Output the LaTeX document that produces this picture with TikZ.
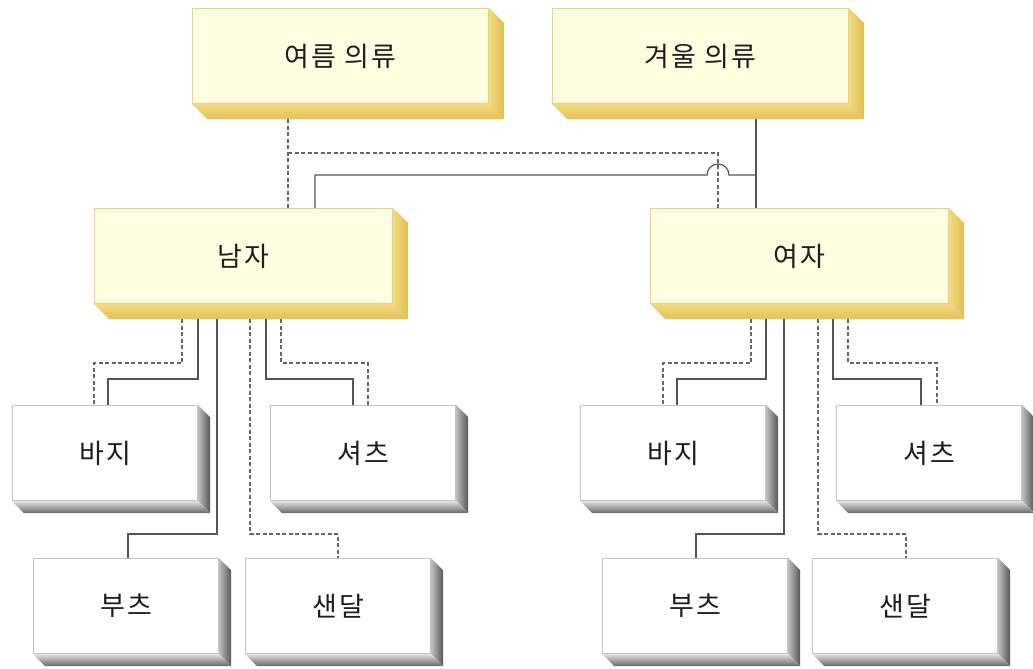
\documentclass[tikz,border=0pt]{standalone}
\usepackage{fontspec}
\newfontfamily\kr[LetterSpace=8]{Noto Sans CJK KR}
\usetikzlibrary{calc}
\definecolor{yfront}{HTML}{FFFDE0}
\definecolor{ybord}{HTML}{EDD27E}
\definecolor{wbord}{HTML}{C4C4C4}
\definecolor{txt}{HTML}{1E1E1E}
\definecolor{lin}{HTML}{555555}
\definecolor{dlin}{HTML}{666666}
\newcommand\extrude[4]{%
  \shade[#3] (#1.north east) -- ++(#2,#2) -- ($(#1.south east)+(#2,#2)$) -- (#1.south east) -- cycle;
  \shade[#4] (#1.south west) -- (#1.south east) -- ++(#2,#2) -- ($(#1.south west)+(#2,#2)$) -- cycle;}
\begin{document}
\begin{tikzpicture}[x=1pt,y=-1pt,
  lbl/.style={font=\kr\fontsize{27pt}{32pt}\selectfont, text=txt},
  ybox/.style={lbl, draw=ybord, fill=yfront, line width=1pt, minimum width=296pt, minimum height=95pt, anchor=north west, inner sep=0pt},
  wbox/.style={lbl, draw=wbord, fill=white, line width=1pt, minimum width=185pt, minimum height=95pt, anchor=north west, inner sep=0pt},
  ysidecol/.style={left color={rgb,255:red,243;green,218;blue,128}, right color={rgb,255:red,224;green,190;blue,84}},
  ybotcol/.style={top color={rgb,255:red,244;green,218;blue,126}, bottom color={rgb,255:red,228;green,192;blue,88}},
  wsidecol/.style={left color={rgb,255:red,190;green,190;blue,190}, right color={rgb,255:red,88;green,88;blue,88}},
  wbotcol/.style={top color={rgb,255:red,226;green,226;blue,226}, bottom color={rgb,255:red,104;green,104;blue,104}},
  sol/.style={draw=lin, line width=1.2pt},
  dsh/.style={draw=dlin, line width=1.2pt, dash pattern=on 4pt off 2.5pt}]
\useasboundingbox (0,0) rectangle (1033,669);
\fill[white] (0,0) rectangle (1033,669);

% top level
\node[ybox] (sum) at (192,8) {여름 의류};
\node[ybox] (win) at (552,8) {겨울 의류};
\node[ybox, minimum width=298pt] (man) at (94,208) {남자};
\node[ybox, minimum width=298pt] (woman) at (650,208) {여자};
\foreach \n in {sum,win,man,woman}{\extrude{\n}{15}{ysidecol}{ybotcol}}

% children
\node[wbox] (mpants) at (12,405) {바지};
\node[wbox] (mshirt) at (270,405) {셔츠};
\node[wbox] (mboots) at (33,558) {부츠};
\node[wbox] (msand)  at (245,558) {샌달};
\node[wbox] (wpants) at (580,405) {바지};
\node[wbox] (wshirt) at (836,405) {셔츠};
\node[wbox] (wboots) at (602,558) {부츠};
\node[wbox] (wsand)  at (812,558) {샌달};
\foreach \n in {mpants,mshirt,mboots,msand,wpants,wshirt,wboots,wsand}{\extrude{\n}{12}{wsidecol}{wbotcol}}

% top connectors
\draw[dsh] ($(sum.south west)+(96,15)$) coordinate (s0) -- (s0 |- man.north);
\draw[dsh] ($(s0)+(0,34)$) -| ($(woman.north west)+(68,0)$);
\draw[sol] ($(win.south west)+(204,15)$) coordinate (w0) -- (w0 |- woman.north);
\draw[sol] ($(w0)+(0,56)$) -- ++(-27,0) arc[start angle=0,end angle=180,radius=11pt] -| ($(man.north west)+(221,0)$);

% man children
\draw[dsh] ($(man.south west)+(88,15)$)  -- ++(0,44)  -| ($(mpants.north west)+(82,0)$);
\draw[sol] ($(man.south west)+(104,15)$) -- ++(0,60)  -| ($(mpants.north west)+(96,0)$);
\draw[sol] ($(man.south west)+(123,15)$) -- ++(0,215) -| ($(mboots.north west)+(95,0)$);
\draw[dsh] ($(man.south west)+(156,15)$) -- ++(0,215) -| ($(msand.north west)+(93,0)$);
\draw[sol] ($(man.south west)+(172,15)$) -- ++(0,60)  -| ($(mshirt.north west)+(83,0)$);
\draw[dsh] ($(man.south west)+(187,15)$) -- ++(0,44)  -| ($(mshirt.north west)+(98,0)$);

% woman children
\draw[dsh] ($(woman.south west)+(101,15)$) -- ++(0,44)  -| ($(wpants.north west)+(83,0)$);
\draw[sol] ($(woman.south west)+(116,15)$) -- ++(0,60)  -| ($(wpants.north west)+(97,0)$);
\draw[sol] ($(woman.south west)+(134,15)$) -- ++(0,215) -| ($(wboots.north west)+(94,0)$);
\draw[dsh] ($(woman.south west)+(168,15)$) -- ++(0,215) -| ($(wsand.north west)+(94,0)$);
\draw[sol] ($(woman.south west)+(183,15)$) -- ++(0,60)  -| ($(wshirt.north west)+(85,0)$);
\draw[dsh] ($(woman.south west)+(198,15)$) -- ++(0,44)  -| ($(wshirt.north west)+(101,0)$);
\end{tikzpicture}
\end{document}
